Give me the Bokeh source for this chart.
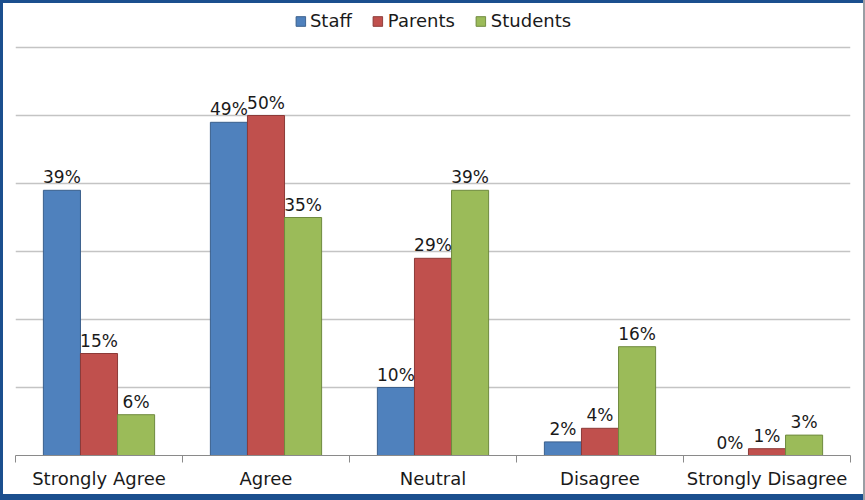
import numpy as np
from bokeh.plotting import figure
from bokeh.models import ColumnDataSource, FixedTicker, Range1d, Legend, LegendItem, LabelSet
from bokeh.core.properties import value
from bokeh.layouts import column
from bokeh.embed import file_html
from bokeh.resources import INLINE

categories = ["Strongly Agree", "Agree", "Neutral", "Disagree", "Strongly Disagree"]
series = ["Staff", "Parents", "Students"]
staff = [39, 49, 10, 2, 0]
parents = [15, 50, 29, 4, 1]
students = [6, 35, 39, 16, 3]
y_ticks = [0.1, 0.2, 0.3, 0.4, 0.5, 0.6]

fills = ["#4F81BD", "#C0504D", "#9BBB59"]
lines = ["#3a5f8c", "#8c3a38", "#6f8a3e"]
FONT = "DejaVu Sans"

p = figure(width=860, height=491, output_backend="svg", toolbar_location=None,
           x_range=Range1d(0, 5), y_range=Range1d(0, 0.6603),
           min_border_left=12, min_border_right=13, min_border_top=3, min_border_bottom=39,
           border_fill_color=None, background_fill_color=None)
p.outline_line_color = None
p.styles = {"background-color": "white"}

bar_w = 0.222
offsets = [-bar_w, 0.0, bar_w]
centers = np.arange(len(categories)) + 0.5
items = []
for vals, name, off, fc, lc in zip([staff, parents, students], series, offsets, fills, lines):
    v = np.array(vals) / 100.0
    src = ColumnDataSource(dict(x=centers + off, top=v, lab=[f"{t}%" for t in vals]))
    r = p.vbar(x="x", top="top", width=bar_w, bottom=0, source=src,
               fill_color=fc, line_color=lc, line_width=1)
    items.append(LegendItem(label=name, renderers=[r]))
    ls = LabelSet(x="x", y="top", text="lab", source=src, text_align="center",
                  text_baseline="bottom", y_offset=3, text_font=value(FONT),
                  text_font_size="17px", text_color="#1a1a1a")
    p.add_layout(ls)

p.yaxis.visible = False
p.ygrid.ticker = FixedTicker(ticks=y_ticks)
p.ygrid.grid_line_color = "#c4c4c4"
p.ygrid.grid_line_width = 1.5
p.xgrid.visible = False

xa = p.xaxis[0]
xa.ticker = FixedTicker(ticks=list(centers), minor_ticks=list(range(len(categories) + 1)))
xa.major_label_overrides = {float(c): cat for c, cat in zip(centers, categories)}
xa.major_tick_out = 0
xa.major_tick_in = 0
xa.minor_tick_out = 7
xa.minor_tick_in = 0
xa.minor_tick_line_color = "#8a8a8a"
xa.axis_line_color = "#8a8a8a"
xa.axis_line_width = 1
xa.major_label_text_font = FONT
xa.major_label_text_font_size = "18px"
xa.major_label_text_color = "#1a1a1a"
xa.major_label_standoff = 5

legend = Legend(items=items, location="top_center", orientation="horizontal",
                label_text_font=FONT, label_text_font_size="18px", label_text_color="#1a1a1a",
                glyph_width=12, glyph_height=12, label_standoff=4, spacing=20,
                border_line_color=None, background_fill_alpha=0, margin=4, padding=5)
p.add_layout(legend)

layout = column(p, styles={"background-color": "#1b4f8e", "padding": "3px 0px 6px 3px",
                           "border-right": "2px solid #9a9ea4"})

open("out.html", "w").write(file_html(layout, INLINE))
